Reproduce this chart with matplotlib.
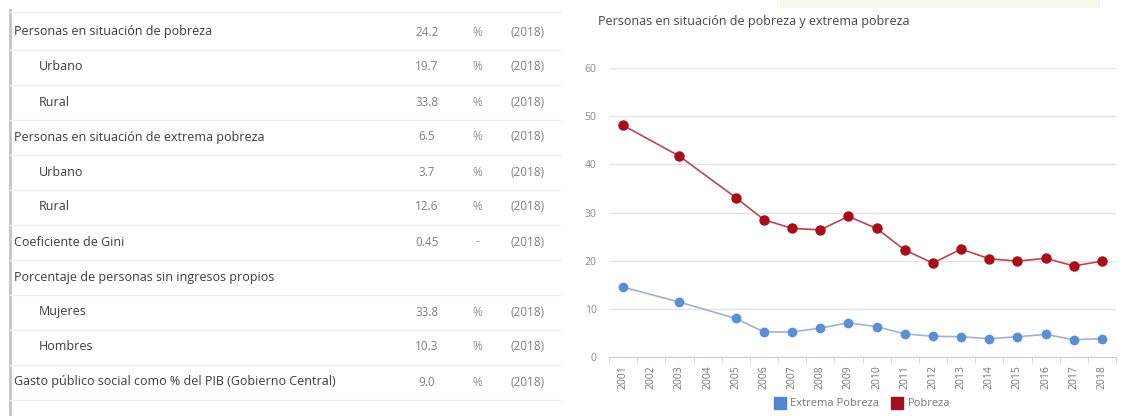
import matplotlib.pyplot as plt
from matplotlib.patches import Rectangle
from matplotlib.lines import Line2D

plt.rcParams['font.family'] = ['Open Sans', 'DejaVu Sans']

# table data
row_labels = ["Personas en situación de pobreza", "Urbano", "Rural",
              "Personas en situación de extrema pobreza", "Urbano", "Rural",
              "Coeficiente de Gini", "Porcentaje de personas sin ingresos propios",
              "Mujeres", "Hombres",
              "Gasto público social como % del PIB (Gobierno Central)"]
row_indent = [0, 1, 1, 0, 1, 1, 0, 0, 1, 1, 0]
row_values = ["24.2", "19.7", "33.8", "6.5", "3.7", "12.6", "0.45", "", "33.8", "10.3", "9.0"]
row_units = ["%", "%", "%", "%", "%", "%", "-", "", "%", "%", "%"]
row_years = ["(2018)"] * 7 + [""] + ["(2018)"] * 3

# chart data
years = [str(y) for y in range(2001, 2019)]
pobreza_years = ["2001", "2003", "2005", "2006", "2007", "2008", "2009", "2010",
                 "2011", "2012", "2013", "2014", "2015", "2016", "2017", "2018"]
pobreza = [48.1, 41.7, 33.1, 28.5, 26.7, 26.4, 29.2, 26.7,
           22.2, 19.5, 22.4, 20.4, 19.9, 20.5, 18.9, 19.9]
extrema = [14.5, 11.4, 8.0, 5.2, 5.2, 6.0, 7.1, 6.3,
           4.8, 4.3, 4.2, 3.8, 4.2, 4.7, 3.6, 3.8]

W, H = 1123, 416
fig = plt.figure(figsize=(W / 100, H / 100), dpi=100)

# background layer in pixel coordinates for the table
bg = fig.add_axes([0, 0, 1, 1])
bg.set_xlim(0, W)
bg.set_ylim(H, 0)
bg.axis('off')
bg.add_patch(Rectangle((780, 0), 320, 8, color='#f6f8ec', lw=0))
bg.plot([10, 10], [10, H], color='#c4c4c4', lw=2)
bg.plot([10, 560], [12, 12], color='#efefef', lw=1)

for i, lab in enumerate(row_labels):
    yc = 32 + 35 * i
    x0 = 39 if row_indent[i] else 14
    bg.text(x0, yc, lab, fontsize=9, color='#3c3c3c', va='center', ha='left')
    bg.text(427, yc, row_values[i], fontsize=8.5, color='#808080', va='center', ha='center')
    bg.text(477, yc, row_units[i], fontsize=8.5, color='#909090', va='center', ha='center')
    bg.text(528, yc, row_years[i], fontsize=8.5, color='#808080', va='center', ha='center')
    bg.plot([10, 560], [yc + 18, yc + 18], color='#efefef', lw=1)

# line chart
ax = fig.add_axes([609 / W, (H - 357) / H, (1116 - 609) / W, (357 - 68) / H])
xpos = [years.index(y) for y in pobreza_years]
ax.plot(xpos, extrema, color='#9db3d3', lw=1.2, marker='o', markersize=6,
        markerfacecolor='#5b8ed4', markeredgecolor='#5b8ed4', label='Extrema Pobreza', zorder=3)
ax.plot(xpos, pobreza, color='#b8474f', lw=1.2, marker='o', markersize=6.5,
        markerfacecolor='#a80d1b', markeredgecolor='#a80d1b', label='Pobreza', zorder=3)

ax.set_xlim(-0.5, len(years) - 0.5)
ax.set_ylim(0, 60)
ax.set_yticks(range(0, 61, 10))
ax.set_xticks(range(len(years)))
ax.set_xticklabels(years, rotation=90)
ax.set_xticks([i - 0.5 for i in range(len(years) + 1)], minor=True)
ax.tick_params(axis='x', which='major', length=0, labelsize=7.5, labelcolor='#777777', pad=6)
ax.tick_params(axis='x', which='minor', length=4, color='#c8d0df')
ax.tick_params(axis='y', length=0, labelsize=7.5, labelcolor='#888888', pad=9)
ax.grid(axis='y', color='#e4e4e4', lw=1)
ax.set_axisbelow(True)
for s in ['left', 'right', 'top']:
    ax.spines[s].set_visible(False)
ax.spines['bottom'].set_color('#c8d0df')

fig.text(598 / W, 1 - 21 / H, "Personas en situación de pobreza y extrema pobreza",
         fontsize=9, color='#444444', va='center', ha='left')

labels = ['Extrema Pobreza', 'Pobreza']
sq = [Line2D([], [], marker='s', ls='', markersize=8, color='#4f86cf'),
      Line2D([], [], marker='s', ls='', markersize=8, color='#a5101e')]
fig.legend(sq, labels, loc='center', bbox_to_anchor=(862 / W, 1 - 404 / H), ncol=2,
           frameon=False, fontsize=8, labelcolor='#777777', handlelength=1,
           handletextpad=0.4, columnspacing=1.2)

fig.savefig('out.png', dpi=100)
